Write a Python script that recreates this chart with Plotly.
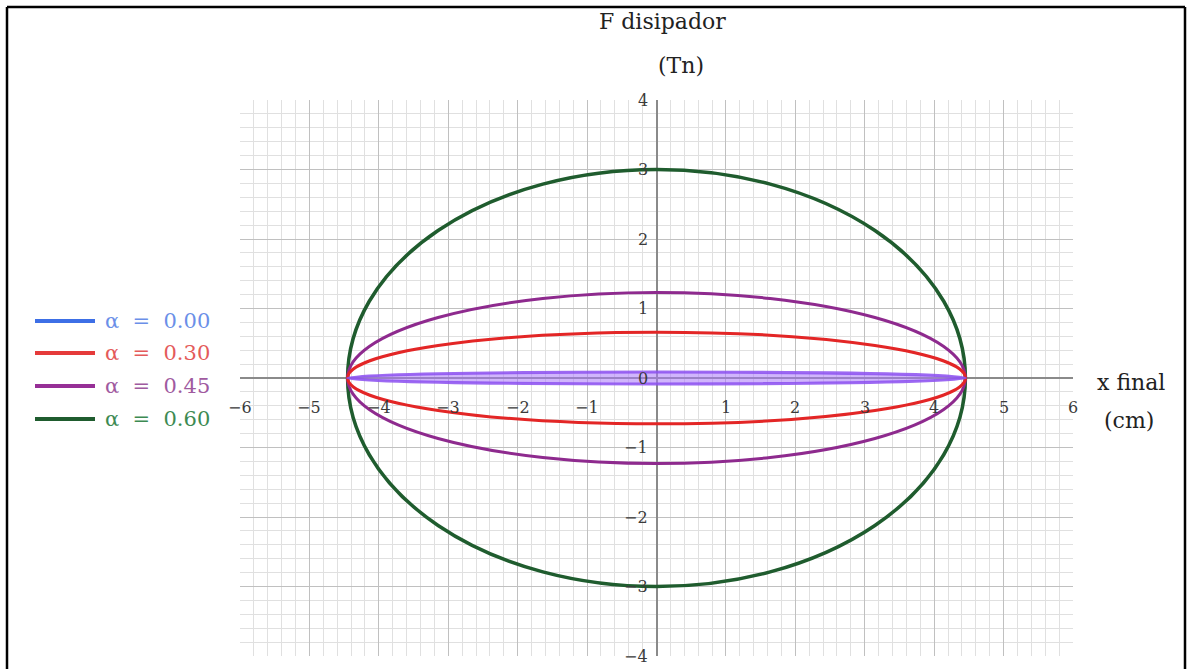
import plotly.graph_objects as go

# Hysteresis loops of the damper: force vs final displacement
alpha_labels = ["α = 0.00", "α = 0.30", "α = 0.45", "α = 0.60"]
x_amplitude = [4.45, 4.45, 4.45, 4.45]          # cm
force_amplitude = [0.085, 0.66, 1.23, 3.0]     # Tn
line_colors = ["rgba(140,80,240,0.85)", "#e32626", "#8e2a8e", "#1f5c2e"]
line_widths = [3, 3, 3, 3.5]
fill_colors = ["rgba(170,120,250,0.55)", "rgba(0,0,0,0)", "rgba(0,0,0,0)", "rgba(0,0,0,0)"]
legend_line_colors = ["#3d6fe6", "#e53a3a", "#962f96", "#1f5c2e"]
legend_text_colors = ["#6b8fe8", "#e45a5a", "#a05aa0", "#3d8a52"]

x_ticks = [-6, -5, -4, -3, -2, -1, 1, 2, 3, 4, 5, 6]
y_ticks = [4, 3, 2, 1, 0, -1, -2, -3, -4]

W, H = 1188, 669
L, R, T, B = 240, 115, 100, 13
pw, ph = W - L - R, H - T - B


def px_to_paper(px, py):
    return (px - L) / pw, (H - B - py) / ph


fig = go.Figure()
# invisible trace so the axes are built
fig.add_trace(go.Scatter(x=[-6, 6], y=[-4, 4], mode="markers",
                         marker=dict(opacity=0), showlegend=False, hoverinfo="skip"))

shapes = []
# loops drawn back to front: largest first
for i in [3, 2, 1, 0]:
    shapes.append(dict(type="circle", xref="x", yref="y",
                       x0=-x_amplitude[i], x1=x_amplitude[i],
                       y0=-force_amplitude[i], y1=force_amplitude[i],
                       line=dict(color=line_colors[i], width=line_widths[i]),
                       fillcolor=fill_colors[i], layer="above"))

# outer frame
fx0, fy0 = px_to_paper(7, 7)
fx1, fy1 = px_to_paper(1185, 680)
for (a, b, c, d) in [(fx0, fy0, fx1, fy0), (fx0, fy0, fx0, fy1), (fx1, fy0, fx1, fy1)]:
    shapes.append(dict(type="line", xref="paper", yref="paper", x0=a, y0=b, x1=c, y1=d,
                       line=dict(color="black", width=2.5)))

annotations = []
tick_font = dict(family="DejaVu Serif", size=16, color="#3a3a3a")
for v in x_ticks:
    annotations.append(dict(x=v, y=-0.43, xref="x", yref="y", text=("−" + str(-v)) if v < 0 else str(v),
                            showarrow=False, font=tick_font, xanchor="center", yanchor="middle"))
for v in y_ticks:
    annotations.append(dict(x=-0.1, y=v, xref="x", yref="y", text=("−" + str(-v)) if v < 0 else str(v),
                            showarrow=False, font=tick_font, xanchor="right", yanchor="middle"))

title_font = dict(family="DejaVu Serif", size=22, color="#222222")
for txt, px, py in [("F disipador", 662, 22), ("(Tn)", 681, 66), ("x final", 1131, 382), ("(cm)", 1129, 420)]:
    ax_, ay_ = px_to_paper(px, py)
    annotations.append(dict(x=ax_, y=ay_, xref="paper", yref="paper", text=txt, showarrow=False,
                            font=title_font, xanchor="center", yanchor="middle"))

# hand-placed legend
legend_y = [321, 353, 386, 419]
for i, lab in enumerate(alpha_labels):
    lx0, ly = px_to_paper(35, legend_y[i])
    lx1, _ = px_to_paper(95, legend_y[i])
    shapes.append(dict(type="line", xref="paper", yref="paper", x0=lx0, x1=lx1, y0=ly, y1=ly,
                       line=dict(color=legend_line_colors[i], width=4)))
    tx, _ = px_to_paper(103, legend_y[i])
    annotations.append(dict(x=tx, y=ly, xref="paper", yref="paper",
                            text=lab.replace(" ", "\u00a0\u00a0"), showarrow=False,
                            font=dict(family="DejaVu Serif", size=21, color=legend_text_colors[i]),
                            xanchor="left", yanchor="middle"))

axis_common = dict(showgrid=True, gridcolor="#c0c0c0", gridwidth=1,
                   zeroline=True, zerolinecolor="#8a8a8a", zerolinewidth=1.5,
                   showticklabels=False, ticks="", showline=False, dtick=1,
                   minor=dict(dtick=0.2, showgrid=True, gridcolor="#e0e0e0", gridwidth=1))

fig.update_layout(
    width=W, height=H,
    margin=dict(l=L, r=R, t=T, b=B),
    paper_bgcolor="white", plot_bgcolor="white",
    xaxis=dict(range=[-6, 6], **axis_common),
    yaxis=dict(range=[-4, 4], **axis_common),
    shapes=shapes, annotations=annotations, showlegend=False,
)

fig.write_html("out.html")
